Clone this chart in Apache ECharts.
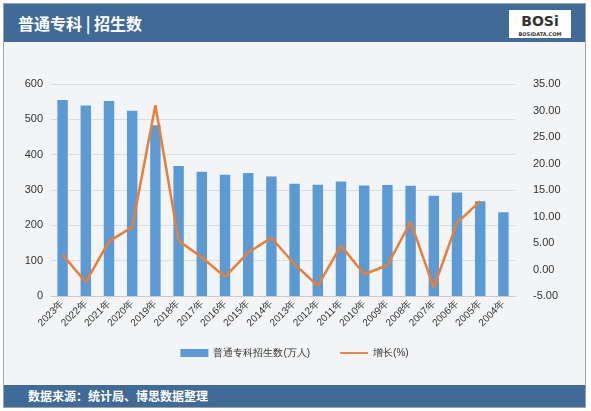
<!DOCTYPE html><html><head><meta charset="utf-8"><script src="https://cdn.jsdelivr.net/npm/echarts@6/dist/echarts.min.js"></script>
<style>body{margin:0;background:#fff}#w{position:absolute;left:3px;top:3px;width:583px;height:405px;background:#f3f4f6;border:1px solid #9aa3ad;box-sizing:border-box;font-family:"Noto Sans CJK SC"}
#h{position:absolute;left:0;top:0;width:100%;height:38px;background:#3f6b96;color:#fff;font-size:16px;font-weight:bold;line-height:38px;padding-left:14px;box-sizing:border-box}
#f{position:absolute;left:0;bottom:0;width:100%;height:22px;background:#3f6b96;color:#fff;font-size:12px;font-weight:bold;line-height:22px;padding-left:24px;box-sizing:border-box}
#lg{position:absolute;right:14px;top:6px;width:62px;height:28px;background:#fff;color:#333;font:bold 14px "DejaVu Sans";text-align:center;line-height:22px}
#c{position:absolute;left:0;top:38px;width:581px;height:343px}</style></head><body>
<div id="w"><div id="h">普通专科 | 招生数</div><div id="lg">BOSi<div style="font-size:5px;line-height:4px">BOSIDATA.COM</div></div><div id="c"></div><div id="f">数据来源：统计局、博思数据整理</div></div>
<script>
const years=['2023年','2022年','2021年','2020年','2019年','2018年','2017年','2016年','2015年','2014年','2013年','2012年','2011年','2010年','2009年','2008年','2007年','2006年','2005年','2004年'];
const enroll=[555,539,552,524,483,368,352,343,348,338,318,315,324,313,314,312,284,293,268,237];
const growth=[2.8,-2.4,5.3,8.0,31.0,5.4,2.3,-1.4,3.2,6.0,1.0,-3.1,4.5,-0.9,0.8,9.0,-3.4,8.8,12.9,null];
const c=echarts.init(document.getElementById('c'));
const lbl={color:'#333',fontSize:11};
c.setOption({animation:false,
grid:{left:47,right:70,top:42,bottom:89},
legend:{bottom:22,itemWidth:28,itemHeight:8,textStyle:{fontSize:10,color:'#333'},itemGap:30,
 data:[{name:'普通专科招生数(万人)',icon:'rect'},{name:'增长(%)',icon:'path://M0,4L30,4L30,6L0,6Z'}]},
xAxis:{type:'category',data:years,axisLabel:{...lbl,fontSize:10,rotate:45,interval:0,margin:6},axisTick:{show:false},axisLine:{lineStyle:{color:'#ccc'}}},
yAxis:[{type:'value',min:0,max:600,interval:100,axisLabel:lbl,splitLine:{lineStyle:{color:'#ddd'}}},
{type:'value',min:-5,max:35,interval:5,axisLabel:{...lbl,formatter:v=>v.toFixed(2),margin:18},splitLine:{show:false}}],
series:[{name:'普通专科招生数(万人)',type:'bar',data:enroll,barWidth:'45%',itemStyle:{color:'#5b9bd5'}},
{name:'增长(%)',type:'line',yAxisIndex:1,data:growth,symbol:'none',lineStyle:{color:'#ed7d31',width:2.5},itemStyle:{color:'#ed7d31'}}]});
</script></body></html>
